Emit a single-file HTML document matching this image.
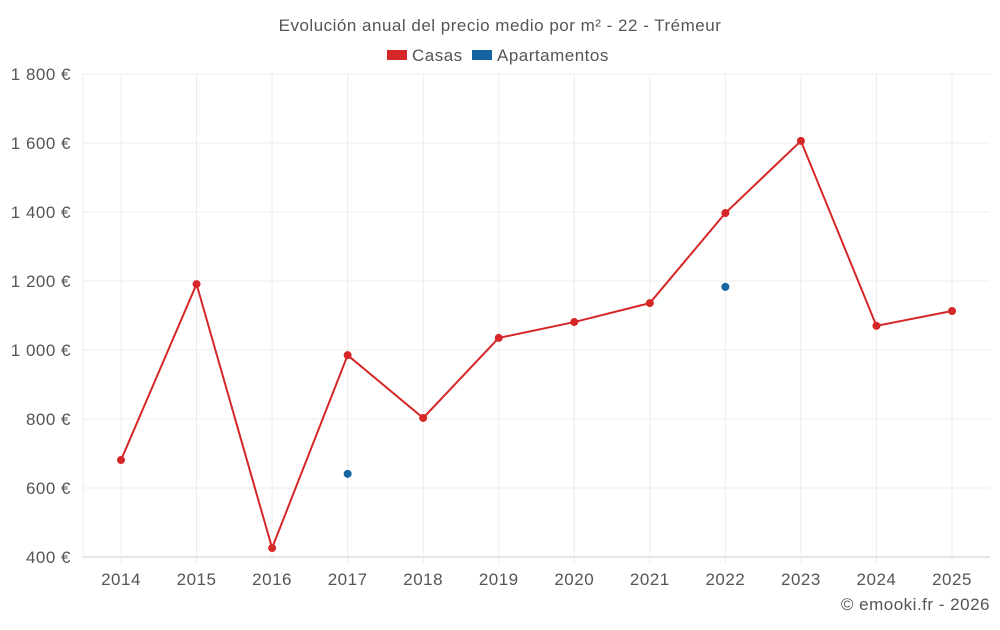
<!DOCTYPE html>
<html><head><meta charset="utf-8">
<style>
body{margin:0;background:#fff;font-family:"Liberation Sans",sans-serif;}
svg text{font-family:"Liberation Sans",sans-serif;letter-spacing:0.5px;}
</style></head>
<body>
<svg id="chart" width="1000" height="625" xmlns="http://www.w3.org/2000/svg">
<text x="500" y="31" text-anchor="middle" font-size="17" fill="#555">Evolución anual del precio medio por m² - 22 - Trémeur</text>
<g>
<rect x="387" y="50" width="20" height="10" fill="#d62728"/>
<text x="412" y="61" font-size="17" fill="#555">Casas</text>
<rect x="472" y="50" width="20" height="10" fill="#1565a0"/>
<text x="497" y="61" font-size="17" fill="#555">Apartamentos</text>
</g>
<g id="grid"></g><g id="axes"></g><g id="series"></g>
<text x="990" y="610" text-anchor="end" font-size="17" fill="#555">© emooki.fr - 2026</text>
</svg>
<script>
const years=[2014,2015,2016,2017,2018,2019,2020,2021,2022,2023,2024,2025];
const casas=[681,1191,426,985,803,1035,1081,1136,1397,1606,1070,1113];
const apartamentos=[null,null,null,641,null,null,null,null,1183,null,null,null];
const yTicks=[400,600,800,1000,1200,1400,1600,1800];
const yTickLabels=["400 €","600 €","800 €","1 000 €","1 200 €","1 400 €","1 600 €","1 800 €"];
const NS="http://www.w3.org/2000/svg";
const L=83,R=990,T=74,B=557;
function x(i){return 121+i*(952-121)/(years.length-1);}
function y(v){return B-(v-400)/(1800-400)*(B-T);}
function mk(t,a,p){const e=document.createElementNS(NS,t);for(const k in a)e.setAttribute(k,a[k]);p.appendChild(e);return e;}
const g=document.getElementById('grid'),ax=document.getElementById('axes'),s=document.getElementById('series');
yTicks.forEach((v,i)=>{
const l=mk('line',{x1:L,x2:R,y1:y(v),y2:y(v),stroke:i==0?'#ccc':'#ececec'},g);


const t=mk('text',{x:71,y:y(v)+6,'text-anchor':'end','font-size':17,fill:'#555','letter-spacing':'0.3px'},ax);
t.textContent=yTickLabels[i];


});
const lv=mk('line',{x1:L,x2:L,y1:T,y2:B,stroke:'#ececec'},g);


years.forEach((yr,i)=>{
const l=mk('line',{x1:x(i),x2:x(i),y1:T,y2:B+6,stroke:'#ececec'},g);


const t=mk('text',{x:x(i),y:585,'text-anchor':'middle','font-size':17,fill:'#555','letter-spacing':'0.3px'},ax);
t.textContent=yr;


});
const pl=mk('polyline',{points:casas.map((v,i)=>x(i)+','+y(v)).join(' '),fill:'none',stroke:'#d62728','stroke-width':2},s);


casas.forEach((v,i)=>{
const c=mk('circle',{cx:x(i),cy:y(v),r:4,fill:'#d62728'},s);


});
apartamentos.forEach((v,i)=>{if(v==null)return;
const c=mk('circle',{cx:x(i),cy:y(v),r:4,fill:'#1565a0'},s);


});
</script>
</body></html>
